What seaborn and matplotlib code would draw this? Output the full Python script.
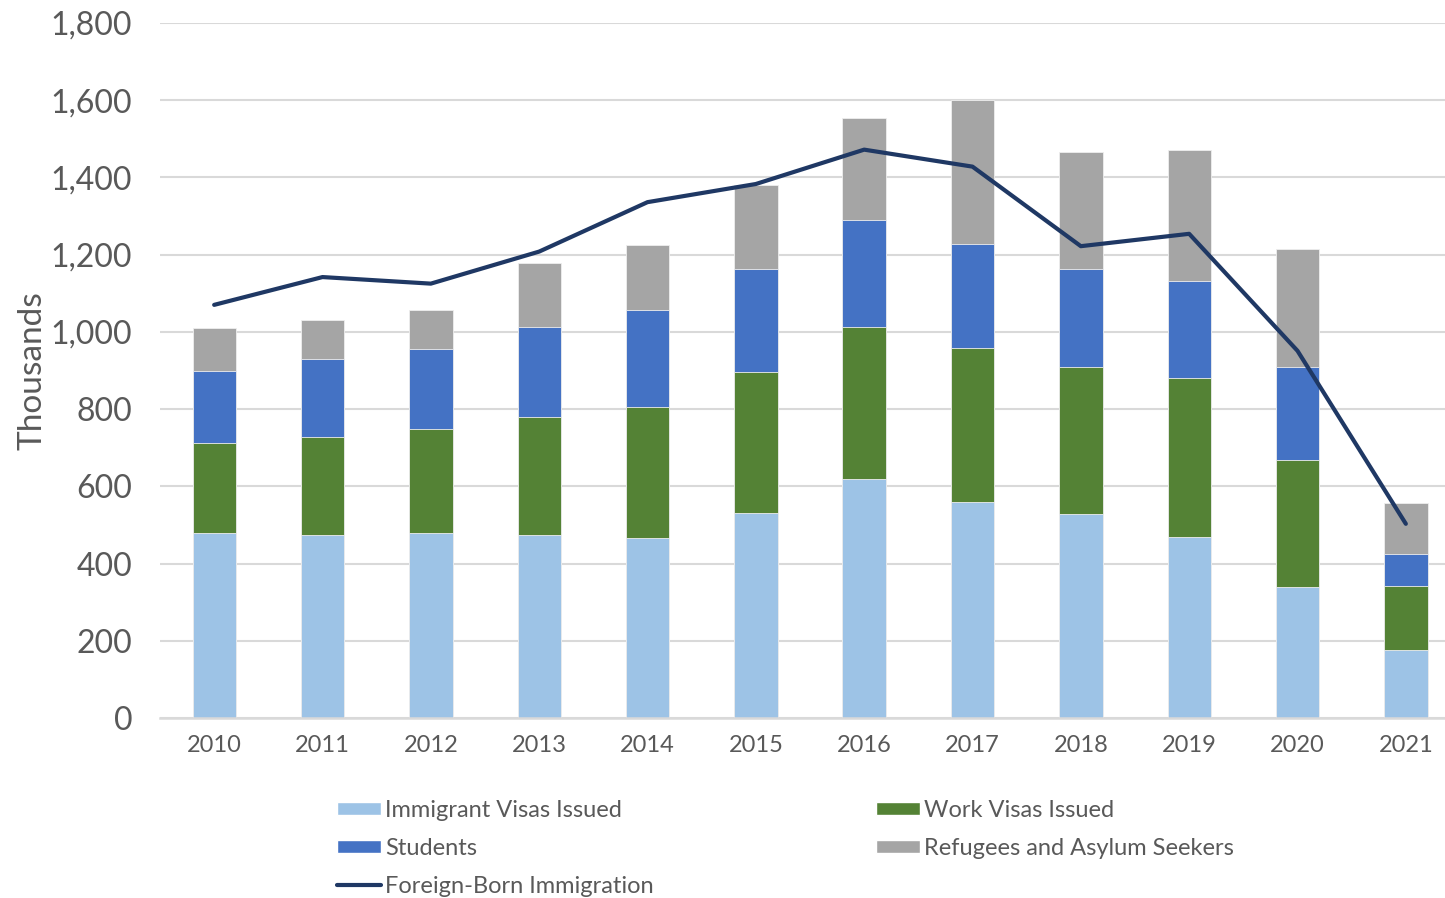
import matplotlib
matplotlib.use("Agg")
import matplotlib.pyplot as plt
from matplotlib.patches import Patch
from matplotlib.lines import Line2D
from matplotlib.ticker import FuncFormatter
import seaborn as sns
import numpy as np
import pandas as pd

# ── Data (thousands) ──────────────────────────────────────────────
years      = ['2010', '2011', '2012', '2013', '2014', '2015',
              '2016', '2017', '2018', '2019', '2020', '2021']
immigrant  = [480, 474, 480, 473, 466, 530, 618, 559, 528, 470, 340, 176]
work       = [232, 255, 268, 306, 339, 367, 395, 399, 382, 411, 329, 167]
students   = [187, 202, 209, 233, 251, 266, 276, 269, 254, 252, 241, 83]
refugees   = [112, 99, 101, 167, 168, 218, 264, 373, 301, 337, 304, 131]
foreign_born = [1070, 1142, 1125, 1208, 1336, 1383, 1472, 1428, 1222, 1254, 951, 503]

C_IMM  = '#9DC3E6'
C_WORK = '#548235'
C_STU  = '#4472C4'
C_REF  = '#A5A5A5'
C_LINE = '#1F3864'
TXT    = '#595959'
GRID   = '#D9D9D9'

df = pd.DataFrame({
    'year': years,
    'imm': immigrant,
    'work': work,
    'stu': students,
    'ref': refugees,
    'fb': foreign_born,
})
df['c1'] = df['imm']
df['c2'] = df['c1'] + df['work']
df['c3'] = df['c2'] + df['stu']
df['c4'] = df['c3'] + df['ref']
df['pos'] = np.arange(len(df))

sns.set_style('white')
plt.rcParams['font.family'] = ['Lato', 'DejaVu Sans']

fig = plt.figure(figsize=(14.45, 8.98), dpi=100)
ax = fig.add_axes([160 / 1445, 0.2004, 1300 / 1445, 0.7740])

# stacked bars: draw cumulative totals from top down
for col, color in [('c4', C_REF), ('c3', C_STU), ('c2', C_WORK), ('c1', C_IMM)]:
    sns.barplot(data=df, x='year', y=col, color=color, width=0.4,
                saturation=1, ax=ax, zorder=2, edgecolor='#EEEEEE',
                linewidth=0.6)

sns.lineplot(data=df, x='pos', y='fb', color=C_LINE, linewidth=3,
             ax=ax, zorder=3)

ax.set_xlim(-0.5, len(years) - 0.5)
ax.set_ylim(0, 1800)
ax.set_yticks(np.arange(0, 1801, 200))
ax.yaxis.set_major_formatter(FuncFormatter(lambda v, p: f'{int(v):,}'))
ax.grid(axis='y', color=GRID, linewidth=1.5, zorder=0)
ax.set_axisbelow(True)
for s in ['top', 'right', 'left']:
    ax.spines[s].set_visible(False)
ax.spines['bottom'].set_color(GRID)
ax.spines['bottom'].set_linewidth(1.8)

ax.tick_params(axis='y', labelsize=23, colors=TXT, length=0, pad=20)
ax.tick_params(axis='x', labelsize=17, colors=TXT, length=0, pad=12)
ax.set_xlabel('')
ax.set_ylabel('Thousands', fontsize=24, color=TXT)
ax.yaxis.set_label_coords(-112 / 1300, 0.5, transform=ax.transAxes)

handles = [
    Patch(facecolor=C_IMM, label='Immigrant Visas Issued'),
    Patch(facecolor=C_STU, label='Students'),
    Line2D([0], [0], color=C_LINE, linewidth=3, label='Foreign-Born Immigration'),
    Patch(facecolor=C_WORK, label='Work Visas Issued'),
    Patch(facecolor=C_REF, label='Refugees and Asylum Seekers'),
]
leg = fig.legend(handles=handles, ncol=2, loc='upper left',
                 bbox_to_anchor=(337 / 1445, 1 - 800 / 898),
                 frameon=False, fontsize=17, handlelength=1.85,
                 handleheight=0.5, handletextpad=0.2, columnspacing=9.4,
                 labelspacing=0.72, borderaxespad=0, borderpad=0)
for t in leg.get_texts():
    t.set_color(TXT)

fig.savefig('out.png', dpi=100)
